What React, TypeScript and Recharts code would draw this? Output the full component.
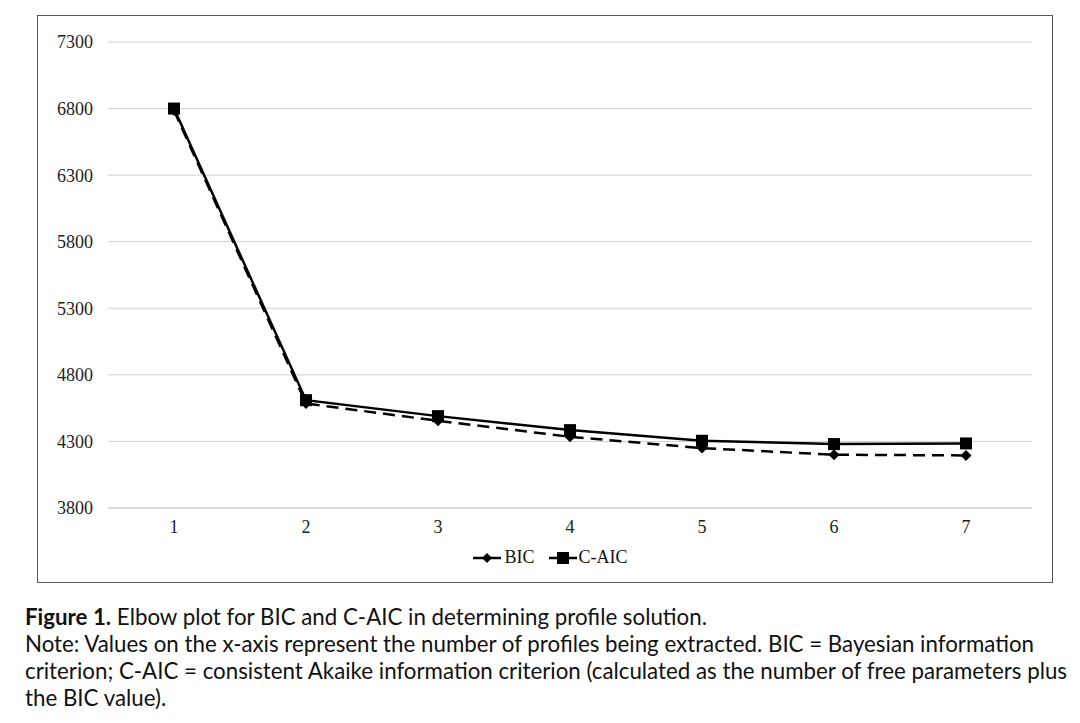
import React from "react";
import { LineChart, Line, XAxis, YAxis, CartesianGrid, Legend } from "recharts";

const profiles = [1, 2, 3, 4, 5, 6, 7];
const bicValues = [6785, 4585, 4455, 4335, 4250, 4200, 4195];
const caicValues = [6800, 4610, 4490, 4385, 4305, 4280, 4285];
const yTicks = [3800, 4300, 4800, 5300, 5800, 6300, 6800, 7300];

const data = profiles.map((p, i) => ({ p, BIC: bicValues[i], CAIC: caicValues[i] }));

const Square = (props: any) => {
  const { cx, cy } = props;
  if (cx == null || cy == null) return null;
  return <rect x={cx - 6} y={cy - 6} width={12} height={12} fill="#000" />;
};

const Diamond = (props: any) => {
  const { cx, cy } = props;
  if (cx == null || cy == null) return null;
  const r = 5.5;
  return <path d={`M${cx},${cy - r}L${cx + r},${cy}L${cx},${cy + r}L${cx - r},${cy}Z`} fill="#000" />;
};

const LegendContent = () => (
  <div style={{ display: "flex", justifyContent: "center", alignItems: "center", fontFamily: "'Liberation Serif', serif", fontSize: 18, color: "#111", paddingLeft: 10 }}>
    <svg width={30} height={14} style={{ marginRight: 2 }}>
      <line x1={1} y1={7} x2={29} y2={7} stroke="#000" strokeWidth={2.5} />
      <path d="M15,2L20,7L15,12L10,7Z" fill="#000" />
    </svg>
    <span style={{ marginRight: 13 }}>BIC</span>
    <svg width={30} height={14} style={{ marginRight: 1 }}>
      <line x1={1} y1={7} x2={29} y2={7} stroke="#000" strokeWidth={2.5} />
      <rect x={9} y={1} width={12} height={12} fill="#000" />
    </svg>
    <span>C-AIC</span>
  </div>
);

export default function App() {
  return (
    <div style={{ position: "absolute", left: 0, top: 0, width: 1080, height: 723, background: "#fff" }}>
      <div
        style={{
          position: "absolute",
          left: 37,
          top: 15,
          width: 1014,
          height: 566,
          border: "1.5px solid #555",
        }}
      >
        <LineChart width={1014} height={566} data={data} margin={{ top: 26, right: 20, bottom: 23, left: 0 }}>
          <CartesianGrid vertical={false} stroke="#d0d0d0" strokeWidth={1} />
          <XAxis
            dataKey="p"
            type="number"
            domain={[0.5, 7.5]}
            ticks={profiles}
            axisLine={{ stroke: "#d0d0d0" }}
            tickLine={false}
            tickMargin={6}
            tick={{ fill: "#222", fontSize: 18, fontFamily: "'Liberation Serif', serif" }}
          />
          <YAxis
            type="number"
            domain={[3800, 7300]}
            ticks={yTicks}
            width={70}
            axisLine={false}
            tickLine={false}
            tickMargin={9}
            tick={{ fill: "#222", fontSize: 18, fontFamily: "'Liberation Serif', serif" }}
          />
          <Legend
            verticalAlign="bottom"
            content={<LegendContent />}
            wrapperStyle={{ bottom: 14, left: 0, width: 1014 }}
          />
          <Line
            dataKey="BIC"
            stroke="#000"
            strokeWidth={2.5}
            strokeDasharray="12 7"
            dot={<Diamond />}
            isAnimationActive={false}
          />
          <Line
            dataKey="CAIC"
            stroke="#000"
            strokeWidth={2.5}
            dot={<Square />}
            isAnimationActive={false}
          />
        </LineChart>
      </div>
      <div
        style={{
          position: "absolute",
          left: 25,
          top: 603,
          fontFamily: "Lato, 'Open Sans', sans-serif",
          fontSize: 22.3,
          lineHeight: "27px",
          color: "#111",
          whiteSpace: "nowrap",
        }}
      >
        <div>
          <b>Figure 1.</b> Elbow plot for BIC and C-AIC in determining profile solution.
        </div>
        <div>Note: Values on the x-axis represent the number of profiles being extracted. BIC = Bayesian information</div>
        <div>criterion; C-AIC = consistent Akaike information criterion (calculated as the number of free parameters plus</div>
        <div>the BIC value).</div>
      </div>
    </div>
  );
}
